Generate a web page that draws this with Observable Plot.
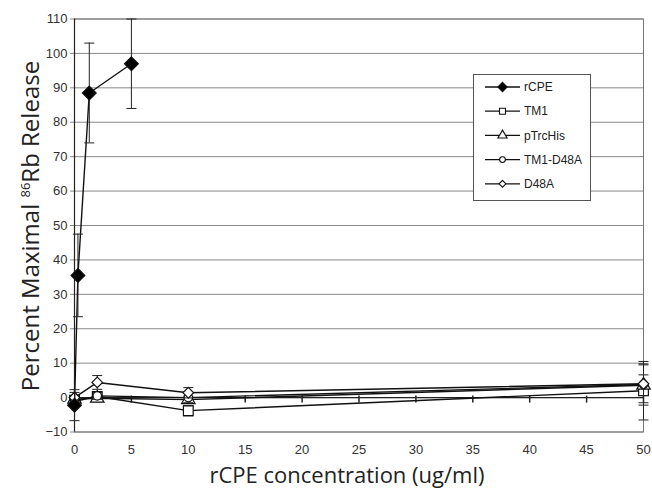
<!DOCTYPE html>
<html><head><meta charset="utf-8">
<script src="https://cdn.jsdelivr.net/npm/d3@7"></script>
<script src="https://cdn.jsdelivr.net/npm/@observablehq/plot@0.6"></script>
<style>body{margin:0;background:#fff;}</style>
</head><body><div id="chart"></div>
<script>
// ---- data ----
const seriesNames = ["rCPE", "TM1", "pTrcHis", "TM1-D48A", "D48A"];
const rcpeConc = [0, 0.3, 1.3, 5];
const rcpeY = [-2.2, 35.5, 88.5, 97];
const rcpeErr = [4.5, 12, 14.5, 13];
const conc = [0, 2, 10, 50];
const tm1Y = [-0.8, 0.3, -3.8, 2];
const tm1Err = [1, 1, 1.5, 8.5];
const pTrcHisY = [-0.5, -0.2, -0.6, 3.6];
const pTrcHisErr = [1, 1, 1, 3];
const tm1d48aY = [-1.2, 0.5, 0, 3.8];
const tm1d48aErr = [1, 1, 1.5, 6];
const d48aY = [0, 4.4, 1.4, 4];
const d48aErr = [1.5, 2, 1.5, 5.5];
const xTicks = [0, 5, 10, 15, 20, 25, 30, 35, 40, 45, 50];
const yTicks = [-10, 0, 10, 20, 30, 40, 50, 60, 70, 80, 90, 100, 110];
const xTitle = "rCPE concentration (ug/ml)";

// ---- build table ----
function rows(name, xs, ys, es) { return xs.map((x, i) => ({series: name, x, y: ys[i], e: es[i]})); }
const table = {
  "rCPE": rows("rCPE", rcpeConc, rcpeY, rcpeErr),
  "TM1": rows("TM1", conc, tm1Y, tm1Err),
  "pTrcHis": rows("pTrcHis", conc, pTrcHisY, pTrcHisErr),
  "TM1-D48A": rows("TM1-D48A", conc, tm1d48aY, tm1d48aErr),
  "D48A": rows("D48A", conc, d48aY, d48aErr)
};

const capSymbol = {draw(ctx) { ctx.moveTo(-5, 0); ctx.lineTo(5, 0); }};
const tickSymbol = {draw(ctx) { ctx.moveTo(0, -2); ctx.lineTo(0, 5); }};
const sym = {"rCPE": "diamond2", "TM1": "square", "pTrcHis": "triangle", "TM1-D48A": "circle", "D48A": "diamond2"};
const rad = {"rCPE": 6.2, "TM1": 5.5, "pTrcHis": 5, "TM1-D48A": 4.2, "D48A": 4.8};

const drawOrder = ["TM1", "pTrcHis", "TM1-D48A", "D48A", "rCPE"];
const seriesMarks = [];
for (const name of drawOrder) {
  const d = table[name];
  seriesMarks.push(
    Plot.line(d, {x: "x", y: "y", stroke: "#111", strokeWidth: 1.4}),
    Plot.ruleX(d, {x: "x", y1: r => r.y - r.e, y2: r => r.y + r.e, stroke: "#222", strokeWidth: 1}),
    Plot.dot(d, {x: "x", y: r => r.y + r.e, symbol: capSymbol, stroke: "#222", fill: "none", strokeWidth: 1}),
    Plot.dot(d, {x: "x", y: r => r.y - r.e, symbol: capSymbol, stroke: "#222", fill: "none", strokeWidth: 1}),
    Plot.dot(d, {x: "x", y: "y", symbol: sym[name], r: rad[name],
      fill: name === "rCPE" ? "#000" : "#fff", stroke: "#111", strokeWidth: 1.2})
  );
}

const plot = Plot.plot({
  width: 652, height: 490,
  marginLeft: 74, marginRight: 9, marginTop: 18.5, marginBottom: 58.5,
  style: {fontFamily: "'Liberation Sans', Arial, sans-serif", fontSize: "13px", background: "#fff", color: "#333"},
  x: {domain: [0, 50]},
  y: {domain: [-10, 110]},
  marks: [
    Plot.gridY(yTicks, {stroke: "#8a8a8a", strokeOpacity: 1, strokeWidth: 1}),
    Plot.frame({stroke: "#777"}),
    Plot.axisY(yTicks, {tickSize: 4, tickPadding: 3, fontSize: 13, label: null, stroke: "#8a8a8a", color: "#333"}),
    Plot.axisX(xTicks, {tickSize: 0, tickPadding: 13, fontSize: 13, label: null, color: "#333"}),
    Plot.ruleX([0], {stroke: "#222", strokeWidth: 1.2}),
    Plot.ruleY([0], {stroke: "#222", strokeWidth: 1.2}),
    Plot.dot(xTicks.slice(1), {x: d => d, y: () => 0, symbol: tickSymbol, stroke: "#222", fill: "none"}),
    ...seriesMarks
  ]
});
document.getElementById("chart").appendChild(plot);

// ---- titles ----
const svg = d3.select(plot);
svg.append("text").attr("x", 347).attr("y", 483).attr("text-anchor", "middle")
  .style("font-family", "'Open Sans', sans-serif").style("font-size", "22px").attr("fill", "#222").text(xTitle);
const yt = svg.append("text").attr("transform", "translate(39,226) rotate(-90)").attr("text-anchor", "middle")
  .style("font-family", "'Open Sans', sans-serif").style("font-size", "24px").attr("fill", "#222");
yt.append("tspan").text("Percent Maximal ");
yt.append("tspan").attr("dy", -9).style("font-size", "13px").text("86");
yt.append("tspan").attr("dy", 9).text("Rb Release");

// ---- legend ----
const lg = svg.append("g");
lg.append("rect").attr("x", 473.5).attr("y", 74.5).attr("width", 117).attr("height", 126)
  .attr("fill", "#fff").attr("stroke", "#555");
const legSym = {"rCPE": d3.symbolDiamond2, "TM1": d3.symbolSquare, "pTrcHis": d3.symbolTriangle, "TM1-D48A": d3.symbolCircle, "D48A": d3.symbolDiamond2};
const legSize = {"rCPE": 55, "TM1": 36, "pTrcHis": 36, "TM1-D48A": 26, "D48A": 30};
seriesNames.forEach((name, i) => {
  const y = 87 + i * 24.2;
  lg.append("line").attr("x1", 485).attr("x2", 520).attr("y1", y).attr("y2", y).attr("stroke", "#111").attr("stroke-width", 1.3);
  lg.append("path").attr("d", d3.symbol().type(legSym[name]).size(legSize[name])())
    .attr("transform", `translate(502.5,${y})`)
    .attr("fill", name === "rCPE" ? "#000" : "#fff").attr("stroke", "#111").attr("stroke-width", 1.1);
  lg.append("text").attr("x", 524).attr("y", y).attr("dy", "0.35em").attr("text-anchor", "start")
    .style("font-family", "'Liberation Sans', Arial, sans-serif").style("font-size", "12px").attr("fill", "#222").text(name);
});
</script>
</body></html>
